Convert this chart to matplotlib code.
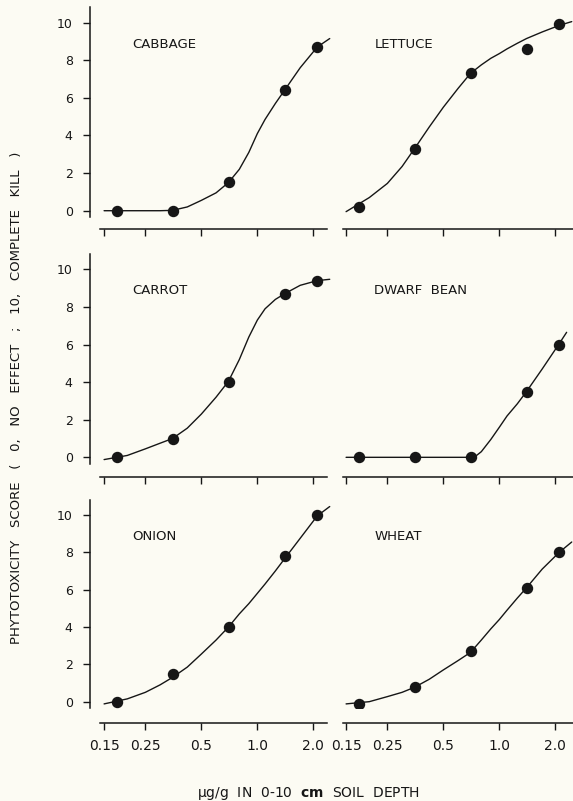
import numpy as np
import matplotlib
matplotlib.use("Agg")
import matplotlib.pyplot as plt

# herbicide dose in the 0-10 cm soil layer (ug/g) and scores
dose = [0.175, 0.35, 0.7, 1.4, 2.1]
cabbage_score = [0, 0, 1.5, 6.4, 8.7]
lettuce_score = [0.2, 3.3, 7.3, 8.6, 9.9]
carrot_score = [0, 1.0, 4.0, 8.7, 9.4]
bean_score = [0, 0, 0, 3.5, 6.0]
onion_score = [0, 1.5, 4.0, 7.8, 10.0]
wheat_score = [-0.1, 0.8, 2.7, 6.1, 8.0]

curve_dose = [0.15, 0.2, 0.25, 0.3, 0.35, 0.42, 0.5, 0.6, 0.7, 0.8, 0.9,
              1.0, 1.1, 1.25, 1.4, 1.7, 2.1, 2.45]
cabbage_curve = [0, 0, 0, 0, 0.02, 0.2, 0.55, 0.95, 1.5, 2.2, 3.1,
                 4.1, 4.85, 5.7, 6.4, 7.6, 8.7, 9.15]
lettuce_curve = [-0.05, 0.7, 1.45, 2.35, 3.3, 4.45, 5.5, 6.5, 7.3, 7.75, 8.1,
                 8.35, 8.6, 8.9, 9.15, 9.5, 9.85, 10.05]
carrot_curve = [-0.12, 0.1, 0.45, 0.75, 1.0, 1.55, 2.3, 3.2, 4.05, 5.2, 6.4,
                7.3, 7.9, 8.4, 8.7, 9.15, 9.4, 9.47]
onion_curve = [-0.12, 0.15, 0.5, 0.9, 1.3, 1.85, 2.55, 3.3, 4.0, 4.7, 5.25,
               5.8, 6.3, 7.0, 7.65, 8.75, 9.95, 10.45]
wheat_curve = [-0.12, 0.0, 0.27, 0.5, 0.77, 1.2, 1.7, 2.2, 2.64, 3.3, 3.9,
               4.4, 4.9, 5.55, 6.1, 7.1, 8.0, 8.55]
bean_curve_dose = [0.15, 0.3, 0.5, 0.7, 0.75, 0.8, 0.9, 1.0, 1.1, 1.25, 1.4,
                   1.7, 2.1, 2.3]
bean_curve = [0, 0, 0, 0, 0.08, 0.3, 0.95, 1.6, 2.2, 2.85, 3.5,
              4.7, 6.05, 6.65]

crops = ["CABBAGE", "LETTUCE", "CARROT", "DWARF  BEAN", "ONION", "WHEAT"]
scores = [cabbage_score, lettuce_score, carrot_score, bean_score,
          onion_score, wheat_score]
curves = [(curve_dose, cabbage_curve), (curve_dose, lettuce_curve),
          (curve_dose, carrot_curve), (bean_curve_dose, bean_curve),
          (curve_dose, onion_curve), (curve_dose, wheat_curve)]

xticks = [0.15, 0.25, 0.5, 1.0, 2.0]
xticklabels = ["0.15", "0.25", "0.5", "1.0", "2.0"]
yticks = [0, 2, 4, 6, 8, 10]

bg = "#fcfbf3"
ink = "#161616"
W, H = 573, 801

plt.rcParams["font.family"] = ["DejaVu Sans"]
fig = plt.figure(figsize=(W / 100, H / 100), dpi=100, facecolor=bg)

# panel boxes in pixels: (top, bottom) per row, (left, right) per column
rows = [(7.5, 217.3), (254.3, 463.9), (500.0, 708.2)]
drops = [11.7, 12.8, 14.5]
cols = [(90, 332), (332, 574)]

for i, crop in enumerate(crops):
    r, c = divmod(i, 2)
    top, bot = rows[r]
    left, right = cols[c]
    ax = fig.add_axes([left / W, 1 - bot / H, (right - left) / W, (bot - top) / H])
    ax.set_facecolor("none")
    ax.set_xscale("log")
    ax.set_xlim(0.126, 2.52)
    ax.set_ylim(-0.35, 10.8)

    cx, cy = curves[i]
    ax.plot(cx, cy, color=ink, lw=1.0, solid_joinstyle="round",
            solid_capstyle="round")
    ax.plot(dose, scores[i], "o", color=ink, ms=7.2, mec=ink)
    ax.text(0.213, 8.85, crop, fontsize=9.5, color=ink, ha="left", va="center")

    for s in ["top", "right"]:
        ax.spines[s].set_visible(False)
    ax.spines["bottom"].set_position(("outward", drops[r] * 0.72))
    ax.spines["bottom"].set_linewidth(1.1)
    ax.spines["bottom"].set_color(ink)
    if c == 0:
        ax.spines["bottom"].set_bounds(0.143, 2.37)
        ax.spines["left"].set_linewidth(1.1)
        ax.spines["left"].set_color(ink)
        ax.set_yticks(yticks)
        ax.set_yticklabels([str(v) for v in yticks])
        ax.tick_params(axis="y", direction="out", length=5, width=1.0,
                       pad=7.5, labelsize=9, colors=ink)
    else:
        ax.spines["bottom"].set_bounds(0.145, 2.52)
        ax.spines["left"].set_visible(False)
        ax.set_yticks([])

    ax.set_xticks(xticks)
    ax.xaxis.set_minor_locator(matplotlib.ticker.NullLocator())
    if r == 2:
        ax.set_xticklabels(xticklabels)
    else:
        ax.set_xticklabels([])
    ax.tick_params(axis="x", direction="out", length=5, width=1.0,
                   pad=6.5, labelsize=10, colors=ink)

fig.text(17 / W, 1 - 398 / H,
         "PHYTOTOXICITY   SCORE   (   0,   NO   EFFECT   ;   10,   COMPLETE   KILL   )",
         rotation=90, ha="center", va="center", fontsize=9.5, color=ink)
fig.text(308 / W, 1 - 793 / H,
         r"μg/g  IN  0-10  $\mathbf{cm}$  SOIL  DEPTH",
         ha="center", va="center", fontsize=10, color=ink)

fig.savefig("out.png", dpi=100, facecolor=bg)
